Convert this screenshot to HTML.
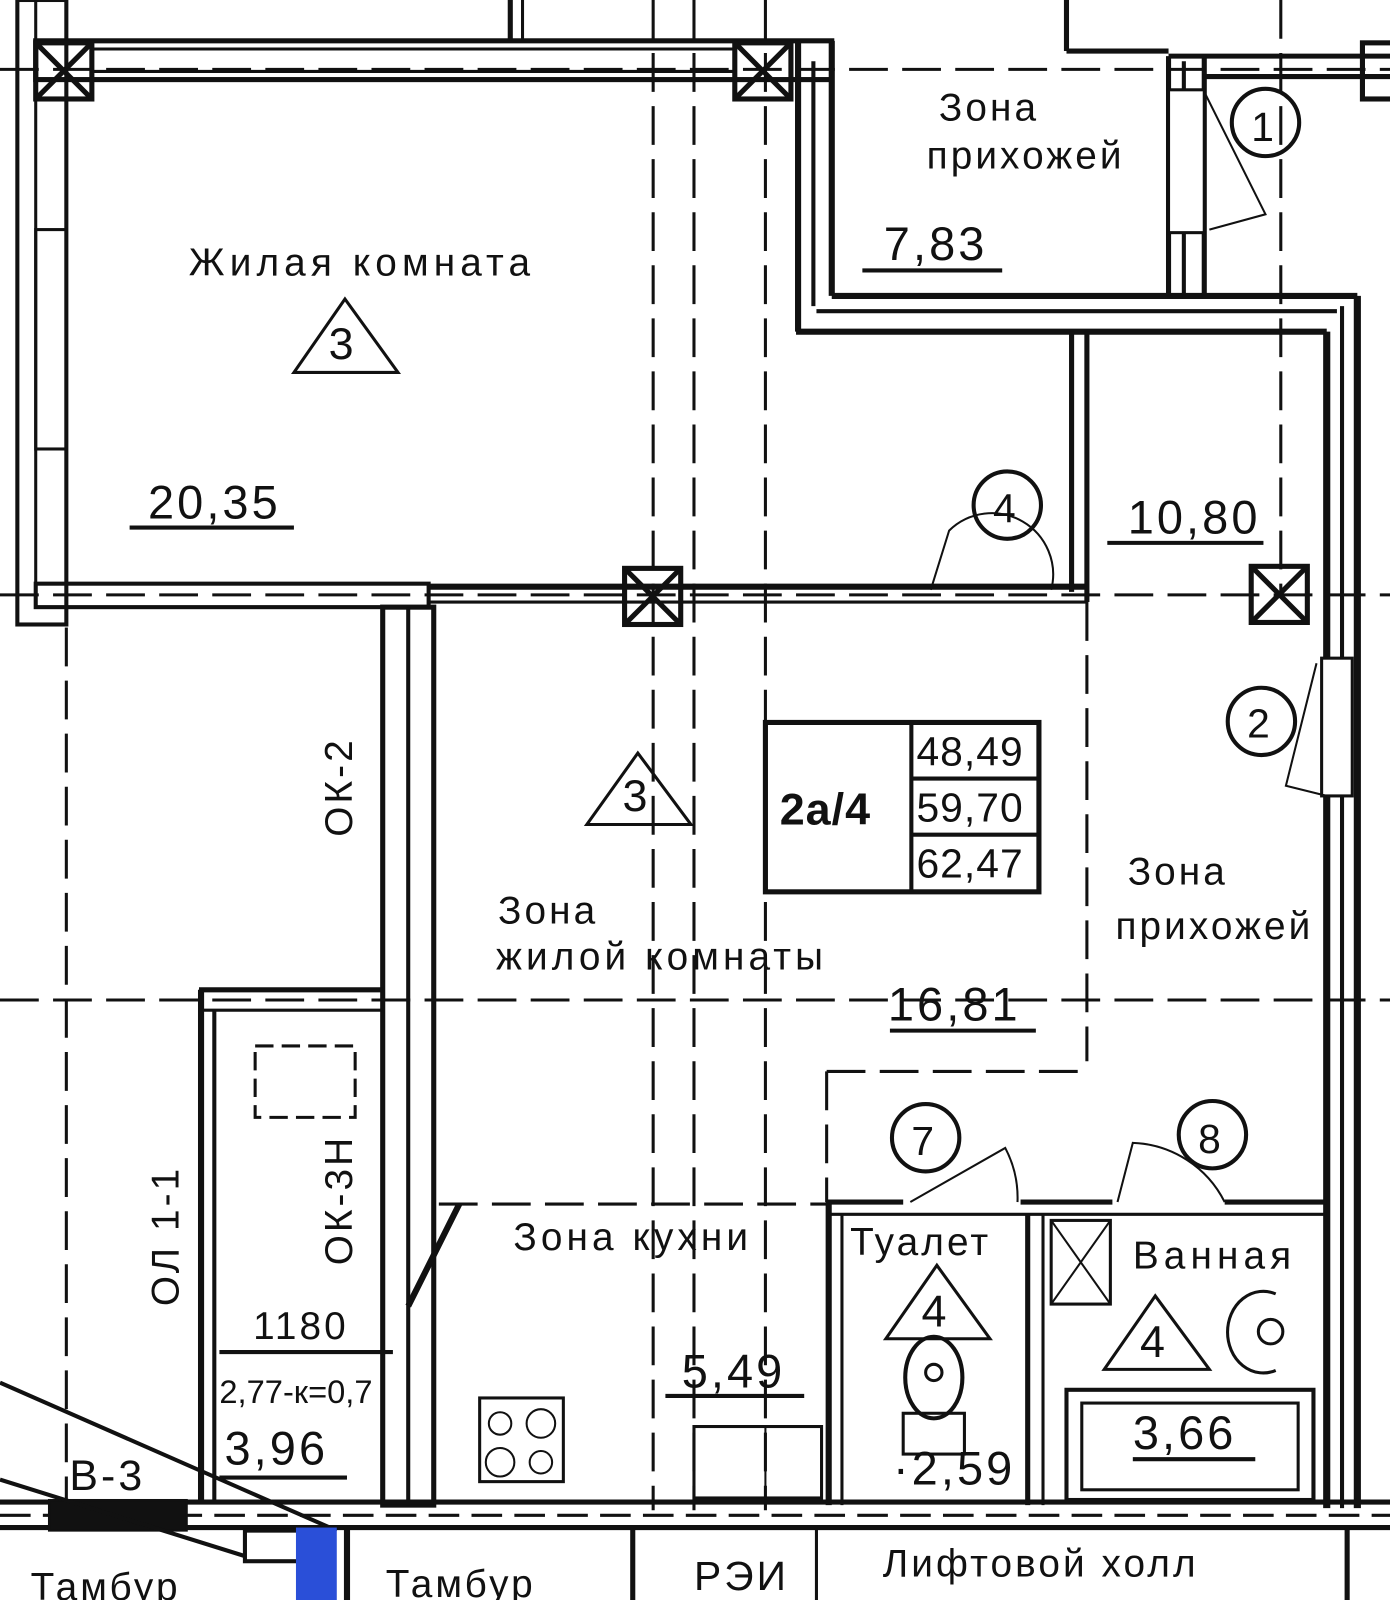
<!DOCTYPE html>
<html><head><meta charset="utf-8"><style>
html,body{margin:0;padding:0;background:#fff;}
svg{display:block;}
text{font-family:"Liberation Sans","DejaVu Sans",sans-serif;fill:#111;}
</style></head><body>
<svg width="1390" height="1600" viewBox="0 0 1362 1568" preserveAspectRatio="none" xmlns="http://www.w3.org/2000/svg">
<rect width="1362" height="1568" fill="#fff"/>
<g stroke="#111" fill="none">
<g stroke-width="3" stroke-dasharray="38,14">
<line x1="0" y1="68" x2="1362" y2="68"/>
<line x1="0" y1="583" x2="1362" y2="583"/>
<line x1="0" y1="980" x2="1362" y2="980"/>
<line x1="430" y1="1180" x2="810" y2="1180"/>
<line x1="640" y1="0" x2="640" y2="1480"/>
<line x1="680" y1="0" x2="680" y2="1480"/>
<line x1="750" y1="0" x2="750" y2="1480"/>
<line x1="1065" y1="590" x2="1065" y2="1040"/>
<line x1="1255" y1="0" x2="1255" y2="580"/>
<line x1="65" y1="615" x2="65" y2="1480"/>
<line x1="810" y1="1050" x2="810" y2="1178"/>
<line x1="810" y1="1050" x2="1065" y2="1050"/>
</g>
<rect x="35" y="40" width="780" height="38" stroke-width="5"/>
<line x1="90" y1="48" x2="720" y2="48" stroke-width="3"/>
<line x1="90" y1="70" x2="720" y2="70" stroke-width="3"/>
<rect x="17" y="0" width="48" height="612" stroke-width="4"/>
<line x1="35" y1="0" x2="35" y2="595" stroke-width="3"/>
<rect x="35" y="225" width="30" height="215" stroke-width="3"/>
<rect x="35" y="572" width="385" height="23" stroke-width="4"/>
<line x1="420" y1="575" x2="1065" y2="575" stroke-width="6"/>
<line x1="420" y1="590" x2="1065" y2="590" stroke-width="3"/>
<line x1="782" y1="40" x2="782" y2="325" stroke-width="6"/>
<line x1="815" y1="40" x2="815" y2="290" stroke-width="6"/>
<line x1="797" y1="60" x2="797" y2="300" stroke-width="4"/>
<line x1="780" y1="325" x2="1300" y2="325" stroke-width="6"/>
<line x1="815" y1="290" x2="1330" y2="290" stroke-width="6"/>
<line x1="800" y1="305" x2="1310" y2="305" stroke-width="4"/>
<line x1="1330" y1="290" x2="1330" y2="1478" stroke-width="7"/>
<line x1="1300" y1="325" x2="1300" y2="1478" stroke-width="7"/>
<line x1="1315" y1="300" x2="1315" y2="1478" stroke-width="4"/>
<rect x="1295" y="645" width="30" height="135" fill="#fff" stroke-width="3"/>
<line x1="1050" y1="325" x2="1050" y2="580" stroke-width="5"/>
<line x1="1065" y1="325" x2="1065" y2="590" stroke-width="5"/>
<line x1="1145" y1="55" x2="1145" y2="290" stroke-width="5"/>
<line x1="1180" y1="55" x2="1180" y2="290" stroke-width="5"/>
<line x1="1160" y1="60" x2="1160" y2="290" stroke-width="4"/>
<rect x="1145" y="88" width="35" height="140" fill="#fff" stroke-width="3"/>
<line x1="1145" y1="55" x2="1362" y2="55" stroke-width="5"/>
<line x1="1180" y1="75" x2="1362" y2="75" stroke-width="5"/>
<line x1="1045" y1="0" x2="1045" y2="50" stroke-width="5"/>
<line x1="1045" y1="50" x2="1145" y2="50" stroke-width="5"/>
<line x1="500" y1="0" x2="500" y2="40" stroke-width="5"/>
<line x1="512" y1="0" x2="512" y2="40" stroke-width="3"/>
<rect x="375" y="595" width="50" height="880" stroke-width="5"/>
<line x1="400" y1="595" x2="400" y2="1475" stroke-width="4"/>
<line x1="195" y1="970" x2="375" y2="970" stroke-width="5"/>
<line x1="195" y1="990" x2="375" y2="990" stroke-width="3"/>
<line x1="197" y1="970" x2="197" y2="1470" stroke-width="6"/>
<line x1="210" y1="990" x2="210" y2="1470" stroke-width="4"/>
<rect x="250" y="1025" width="98" height="70" stroke-width="3" stroke-dasharray="18,8"/>
<line x1="400" y1="1280" x2="450" y2="1180" stroke-width="6"/>
<line x1="810" y1="1178" x2="885" y2="1178" stroke-width="5"/>
<line x1="1000" y1="1178" x2="1090" y2="1178" stroke-width="5"/>
<line x1="1200" y1="1178" x2="1300" y2="1178" stroke-width="5"/>
<line x1="810" y1="1190" x2="1300" y2="1190" stroke-width="3"/>
<line x1="812" y1="1178" x2="812" y2="1475" stroke-width="6"/>
<line x1="825" y1="1190" x2="825" y2="1475" stroke-width="3"/>
<line x1="1007" y1="1190" x2="1007" y2="1475" stroke-width="5"/>
<line x1="1022" y1="1190" x2="1022" y2="1475" stroke-width="3"/>
<rect x="1030" y="1196" width="58" height="82" stroke-width="3"/>
<line x1="1030" y1="1196" x2="1088" y2="1278" stroke-width="2"/>
<line x1="1088" y1="1196" x2="1030" y2="1278" stroke-width="2"/>
<rect x="1045" y="1362" width="242" height="108" stroke-width="4"/>
<rect x="1060" y="1375" width="212" height="85" stroke-width="3"/>
<path d="M1250 1268 a35 40 0 1 0 0 75" stroke-width="3"/>
<circle cx="1245" cy="1305" r="12" stroke-width="3"/>
<ellipse cx="915" cy="1350" rx="28" ry="40" stroke-width="4"/>
<circle cx="915" cy="1345" r="8" stroke-width="3"/>
<rect x="885" y="1385" width="60" height="40" stroke-width="3"/>
<rect x="470" y="1370" width="82" height="82" stroke-width="3"/>
<circle cx="490" cy="1395" r="11" stroke-width="2"/><circle cx="530" cy="1395" r="14" stroke-width="2"/>
<circle cx="490" cy="1433" r="14" stroke-width="2"/><circle cx="530" cy="1433" r="11" stroke-width="2"/>
<rect x="680" y="1398" width="125" height="70" stroke-width="3"/>
<line x1="750" y1="1398" x2="750" y2="1468" stroke-width="2"/>
<line x1="0" y1="1472" x2="1362" y2="1472" stroke-width="5"/>
<line x1="0" y1="1485" x2="1362" y2="1485" stroke-width="3" stroke-dasharray="30,12"/>
<line x1="0" y1="1497" x2="1362" y2="1497" stroke-width="5"/>
<rect x="48" y="1470" width="135" height="30" fill="#111" stroke-width="2"/>
<line x1="340" y1="1497" x2="340" y2="1568" stroke-width="6"/>
<line x1="620" y1="1497" x2="620" y2="1568" stroke-width="5"/>
<line x1="800" y1="1497" x2="800" y2="1568" stroke-width="3"/>
<line x1="1320" y1="1497" x2="1320" y2="1568" stroke-width="5"/>
<line x1="0" y1="1355" x2="330" y2="1500" stroke-width="4"/>
<line x1="0" y1="1450" x2="240" y2="1525" stroke-width="4"/>
<rect x="240" y="1500" width="55" height="30" stroke-width="4"/>
<rect x="290" y="1497" width="40" height="71" fill="#2a4fd8" stroke="none"/>
<g stroke-width="5">
<rect x="35" y="42" width="55" height="55"/><line x1="35" y1="42" x2="90" y2="97"/><line x1="90" y1="42" x2="35" y2="97"/>
<rect x="720" y="42" width="55" height="55"/><line x1="720" y1="42" x2="775" y2="97"/><line x1="775" y1="42" x2="720" y2="97"/>
<rect x="612" y="557" width="55" height="55"/><line x1="612" y1="557" x2="667" y2="612"/><line x1="667" y1="557" x2="612" y2="612"/>
<rect x="1226" y="555" width="55" height="55"/><line x1="1226" y1="555" x2="1281" y2="610"/><line x1="1281" y1="555" x2="1226" y2="610"/>
<rect x="1335" y="42" width="30" height="55"/>
</g>
<g stroke-width="2">
<path d="M912 578 L930 520 A60 60 0 0 1 1030 578"/>
<path d="M892 1178 L985 1125 A105 105 0 0 1 997 1178"/>
<path d="M1095 1178 L1110 1120 A105 105 0 0 1 1200 1178"/>
<path d="M1180 90 L1240 210 L1185 225"/>
<path d="M1290 650 L1260 770 L1300 780"/>
</g>
<g stroke-width="4">
<circle cx="1240" cy="120" r="33"/><circle cx="987" cy="495" r="33"/>
<circle cx="1236" cy="707" r="33"/><circle cx="907" cy="1115" r="33"/>
<circle cx="1188" cy="1112" r="33"/>
</g>
<g stroke-width="3">
<path d="M288 365 L338 293 L390 365 Z"/>
<path d="M575 808 L625 738 L677 808 Z"/>
<path d="M868 1312 L918 1240 L970 1312 Z"/>
<path d="M1082 1342 L1132 1270 L1185 1342 Z"/>
</g>
<rect x="750" y="708" width="268" height="166" stroke-width="5"/>
<line x1="893" y1="708" x2="893" y2="874" stroke-width="4"/>
<line x1="893" y1="763" x2="1018" y2="763" stroke-width="4"/>
<line x1="893" y1="818" x2="1018" y2="818" stroke-width="4"/>
<g stroke-width="4">
<line x1="845" y1="265" x2="982" y2="265"/>
<line x1="127" y1="517" x2="288" y2="517"/>
<line x1="1085" y1="532" x2="1238" y2="532"/>
<line x1="872" y1="1010" x2="1015" y2="1010"/>
<line x1="652" y1="1368" x2="788" y2="1368"/>
<line x1="215" y1="1325" x2="385" y2="1325"/>
<line x1="215" y1="1448" x2="340" y2="1448"/>
<line x1="1110" y1="1430" x2="1230" y2="1430"/>
</g>
</g>
<g font-size="38" letter-spacing="3">
<text x="920" y="118">Зона</text>
<text x="908" y="165">прихожей</text>
<text x="866" y="255" font-size="46">7,83</text>
<text x="185" y="270" letter-spacing="5">Жилая комната</text>
<text x="322" y="352" font-size="44">3</text>
<text x="145" y="508" font-size="46">20,35</text>
<text x="1105" y="523" font-size="46">10,80</text>
<text x="973" y="512" font-size="40">4</text>
<text x="1226" y="138" font-size="40">1</text>
<text x="1222" y="723" font-size="40">2</text>
<text x="893" y="1132" font-size="40">7</text>
<text x="1174" y="1130" font-size="40">8</text>
<text x="610" y="795" font-size="44">3</text>
<text x="764" y="808" font-size="44" font-weight="bold" letter-spacing="1">2a/4</text>
<text x="898" y="750" font-size="40" letter-spacing="1">48,49</text>
<text x="898" y="805" font-size="40" letter-spacing="1">59,70</text>
<text x="898" y="860" font-size="40" letter-spacing="1">62,47</text>
<text x="488" y="905">Зона</text>
<text x="486" y="950" letter-spacing="4">жилой комнаты</text>
<text x="1105" y="867">Зона</text>
<text x="1093" y="920">прихожей</text>
<text x="870" y="1000" font-size="46">16,81</text>
<text x="503" y="1225" letter-spacing="4">Зона кухни</text>
<text x="668" y="1360" font-size="46">5,49</text>
<text x="833" y="1230">Туалет</text>
<text x="903" y="1300" font-size="44">4</text>
<text x="1110" y="1243" letter-spacing="5">Ванная</text>
<text x="1117" y="1330" font-size="44">4</text>
<text x="875" y="1455" font-size="46">·2,59</text>
<text x="1110" y="1420" font-size="46">3,66</text>
<text x="248" y="1312">1180</text>
<text x="215" y="1375" font-size="32" letter-spacing="0">2,77-к=0,7</text>
<text x="220" y="1435" font-size="46">3,96</text>
<text x="68" y="1460" font-size="42">В-3</text>
<text x="30" y="1568">Тамбур</text>
<text x="378" y="1565">Тамбур</text>
<text x="680" y="1558" font-size="40">РЭИ</text>
<text x="865" y="1545">Лифтовой холл</text>
<text transform="translate(345,820) rotate(-90)">ОК-2</text>
<text transform="translate(345,1240) rotate(-90)">ОК-3Н</text>
<text transform="translate(175,1280) rotate(-90)">ОЛ 1-1</text>
</g>
</svg>
</body></html>
